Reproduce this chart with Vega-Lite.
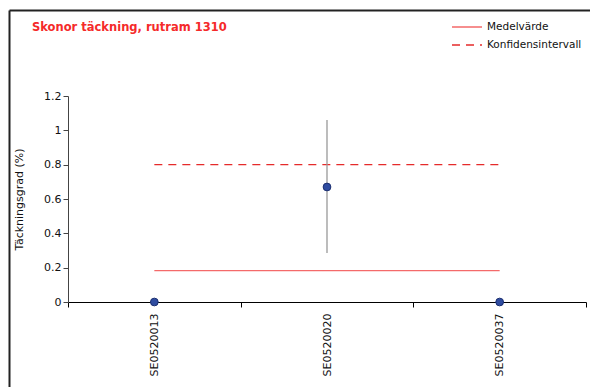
{
  "$schema": "https://vega.github.io/schema/vega-lite/v6.json",
  "autosize": {"type": "none"},
  "width": 581,
  "height": 377,
  "padding": {"left": 9, "top": 10, "right": 0, "bottom": 0},
  "background": "white",
  "config": {
    "font": "DejaVu Sans",
    "view": {"stroke": null}
  },
  "title": {
    "text": "Skonor täckning, rutram 1310",
    "anchor": "start",
    "frame": "group",
    "orient": "top",
    "offset": 0,
    "baseline": "alphabetic",
    "dx": 23,
    "dy": 35,
    "font": "DejaVu Sans",
    "fontSize": 11.5,
    "fontWeight": "bold",
    "color": "#f52a2a"
  },
  "datasets": {
    "punkter": [
      {"lokal": "SE0520013", "varde": 0, "lag": 0, "hog": 0},
      {"lokal": "SE0520020", "varde": 0.67, "lag": 0.285, "hog": 1.06},
      {"lokal": "SE0520037", "varde": 0, "lag": 0, "hog": 0}
    ],
    "linjer": [
      {"lokal": "SE0520013", "serie": "Medelvärde", "varde": 0.183},
      {"lokal": "SE0520020", "serie": "Medelvärde", "varde": 0.183},
      {"lokal": "SE0520037", "serie": "Medelvärde", "varde": 0.183},
      {"lokal": "SE0520013", "serie": "Konfidensintervall", "varde": 0.8},
      {"lokal": "SE0520020", "serie": "Konfidensintervall", "varde": 0.8},
      {"lokal": "SE0520037", "serie": "Konfidensintervall", "varde": 0.8}
    ],
    "ram": [{"k": 0}, {"k": 1}]
  },
  "layer": [
    {
      "encoding": {
        "x": {
          "field": "lokal",
          "type": "nominal",
          "sort": null,
          "scale": {"range": [59, 577], "paddingInner": 0, "paddingOuter": 0},
          "axis": {
            "title": null,
            "orient": "bottom",
            "offset": -85,
            "tickBand": "extent",
            "labelAngle": -90,
            "labelAlign": "right",
            "labelBaseline": "middle",
            "labelFontSize": 11,
            "labelColor": "#111111",
            "labelPadding": 6,
            "domainColor": "#000000",
            "tickColor": "#000000",
            "tickSize": 5,
            "grid": false
          }
        },
        "y": {
          "field": "varde",
          "type": "quantitative",
          "scale": {"domain": [0, 1.2], "range": [292, 86], "nice": false, "zero": true},
          "axis": {
            "title": "Täckningsgrad (%)",
            "orient": "left",
            "titleFontSize": 11,
            "titleFontWeight": "normal",
            "titleColor": "#111111",
            "titlePadding": 19,
            "offset": -59,
            "values": [0, 0.2, 0.4, 0.6, 0.8, 1, 1.2],
            "format": "~g",
            "labelFontSize": 11,
            "labelColor": "#111111",
            "labelPadding": 2,
            "domainColor": "#444444",
            "tickColor": "#444444",
            "tickSize": 5,
            "grid": false
          }
        }
      },
      "layer": [
        {
          "data": {"name": "linjer"},
          "mark": {"type": "line", "strokeWidth": 1.3},
          "encoding": {
            "color": {
              "field": "serie",
              "type": "nominal",
              "scale": {"domain": ["Medelvärde", "Konfidensintervall"], "range": ["#f46a6a", "#e52b2b"]},
              "legend": {
                "title": null,
                "orient": "none",
                "legendX": 442,
                "legendY": 8,
                "padding": 0,
                "symbolType": "stroke",
                "symbolSize": 900,
                "symbolStrokeWidth": 1.3,
                "clipHeight": 18,
                "labelFontSize": 10.5,
                "labelColor": "#111111",
                "labelOffset": 4,
                "rowPadding": 0
              }
            },
            "strokeDash": {
              "field": "serie",
              "type": "nominal",
              "scale": {"domain": ["Medelvärde", "Konfidensintervall"], "range": [[1, 0], [8, 6]]},
              "legend": null
            }
          }
        },
        {
          "data": {"name": "punkter"},
          "mark": {"type": "rule", "color": "#999999", "strokeWidth": 1.3},
          "encoding": {
            "y": {"field": "lag", "type": "quantitative"},
            "y2": {"field": "hog"}
          }
        },
        {
          "data": {"name": "punkter"},
          "mark": {"type": "point", "filled": true, "fill": "#2f4ca0", "stroke": "#1b2e70", "strokeWidth": 1, "size": 60, "opacity": 1}
        }
      ]
    },
    {
      "data": {"name": "ram"},
      "mark": {"type": "point", "opacity": 0},
      "encoding": {
        "x": {
          "field": "k",
          "type": "quantitative",
          "scale": {"domain": [0, 1], "range": [0, 581], "nice": false},
          "axis": {"orient": "top", "offset": 0, "title": null, "labels": false, "ticks": false, "grid": false, "domainColor": "#222222", "domainWidth": 2}
        },
        "y": {
          "field": "k",
          "type": "quantitative",
          "scale": {"domain": [0, 1], "range": [377, 0], "nice": false},
          "axis": {"orient": "left", "offset": 0, "title": null, "labels": false, "ticks": false, "grid": false, "domainColor": "#222222", "domainWidth": 2}
        }
      }
    }
  ],
  "resolve": {
    "scale": {"x": "independent", "y": "independent"},
    "axis": {"x": "independent", "y": "independent"}
  }
}
